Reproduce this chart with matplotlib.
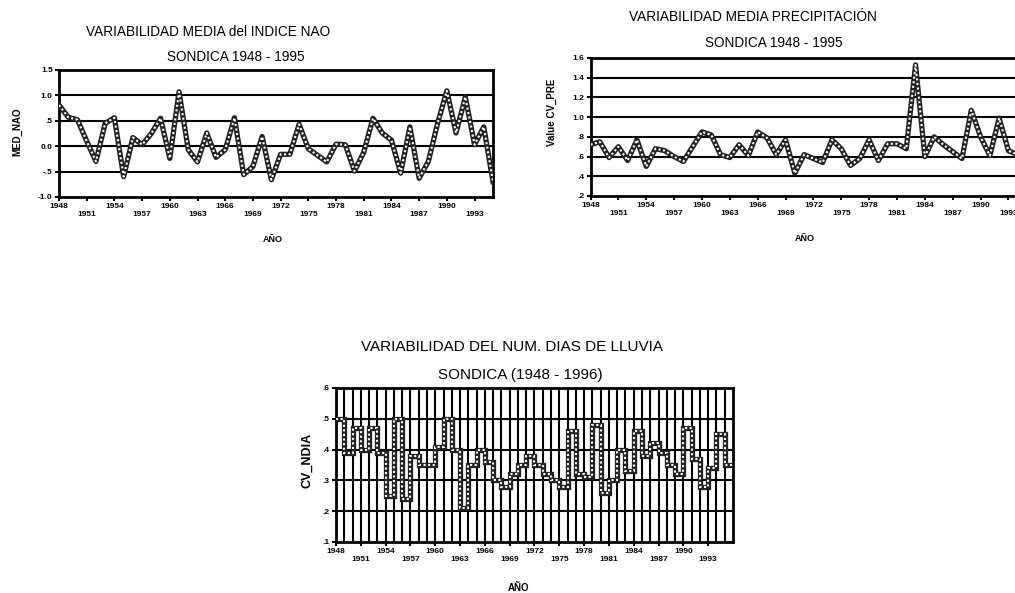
import matplotlib
matplotlib.use("Agg")
import matplotlib.pyplot as plt
import numpy as np

# ---------------- data ----------------
years_nao = list(range(1948, 1996))
med_nao = [0.81, 0.57, 0.52, 0.10, -0.30, 0.45, 0.56, -0.60, 0.17, 0.03,
           0.25, 0.55, -0.24, 1.07, -0.07, -0.31, 0.26, -0.22, -0.07, 0.56,
           -0.56, -0.40, 0.19, -0.66, -0.16, -0.16, 0.43, -0.05, -0.18, -0.31,
           0.04, 0.03, -0.49, -0.12, 0.55, 0.26, 0.12, -0.53, 0.38, -0.63,
           -0.30, 0.45, 1.09, 0.26, 0.97, 0.03, 0.38, -0.70]

years_pre = list(range(1948, 1996))
cv_pre = [0.72, 0.75, 0.59, 0.70, 0.56, 0.77, 0.50, 0.68, 0.66, 0.60,
          0.55, 0.70, 0.85, 0.82, 0.62, 0.59, 0.72, 0.61, 0.85, 0.79,
          0.62, 0.77, 0.43, 0.62, 0.58, 0.54, 0.77, 0.68, 0.51, 0.58,
          0.77, 0.56, 0.73, 0.73, 0.68, 1.53, 0.60, 0.80, 0.72, 0.65,
          0.58, 1.07, 0.80, 0.61, 0.99, 0.66, 0.62, 0.62]

years_ndia = list(range(1948, 1996))
cv_ndia = [0.50, 0.39, 0.47, 0.40, 0.47, 0.39, 0.25, 0.50, 0.24, 0.38,
           0.35, 0.35, 0.41, 0.50, 0.40, 0.21, 0.35, 0.40, 0.36, 0.30,
           0.28, 0.32, 0.35, 0.38, 0.35, 0.32, 0.30, 0.28, 0.46, 0.32,
           0.31, 0.48, 0.26, 0.30, 0.40, 0.33, 0.46, 0.38, 0.42, 0.39,
           0.35, 0.32, 0.47, 0.37, 0.28, 0.34, 0.45, 0.35]

nao_yticks = [-1.0, -0.5, 0.0, 0.5, 1.0, 1.5]
nao_ylabels = ["-1.0", "-.5", "0.0", ".5", "1.0", "1.5"]
pre_yticks = [0.2, 0.4, 0.6, 0.8, 1.0, 1.2, 1.4, 1.6]
pre_ylabels = [".2", ".4", ".6", ".8", "1.0", "1.2", "1.4", "1.6"]
ndia_yticks = [0.1, 0.2, 0.3, 0.4, 0.5, 0.6]
ndia_ylabels = [".1", ".2", ".3", ".4", ".5", ".6"]
xtick_years = list(range(1948, 1996, 3))

# ---------------- figure ----------------
W, H = 1015, 593
fig = plt.figure(figsize=(W / 100, H / 100), dpi=100)
fig.patch.set_facecolor("white")
plt.rcParams["font.family"] = ["Liberation Sans", "DejaVu Sans"]


def axes_px(l, r, t, b):
    return fig.add_axes([l / W, 1 - b / H, (r - l) / W, (b - t) / H])


def ftext(x, y, s, **kw):
    fig.text(x / W, 1 - y / H, s, ha="center", va="center", **kw)


def style(ax):
    for sp in ax.spines.values():
        sp.set_linewidth(2.0)
        sp.set_color("black")
    ax.tick_params(direction="out", length=3, width=1.5, pad=1.5,
                   labelsize=6)
    ax.set_xticks(xtick_years)
    ax.set_xticklabels([str(y) if i % 2 == 0 else "\n" + str(y)
                        for i, y in enumerate(xtick_years)],
                       fontweight="bold", fontsize=6)
    for lab in ax.get_yticklabels():
        lab.set_fontweight("bold")


def chain(ax, x, y):
    ax.plot(x, y, color="#222222", lw=3.8, solid_joinstyle="round", zorder=3)
    ax.plot(x, y, color="white", lw=1.5, ls=(0, (1, 1.2)), zorder=4)


# ---- top-left: NAO ----
ax1 = axes_px(59, 493, 70, 197)
chain(ax1, years_nao, med_nao)
ax1.set_xlim(1948, 1995)
ax1.set_ylim(-1.0, 1.5)
ax1.set_yticks(nao_yticks)
ax1.set_yticklabels(nao_ylabels)
for v in [-0.5, 0.0, 0.5, 1.0]:
    ax1.axhline(v, color="black", lw=1.5, zorder=1)
style(ax1)

ftext(208, 32, "VARIABILIDAD MEDIA del INDICE NAO", fontsize=9.8)
ftext(236, 57, "SONDICA 1948 - 1995", fontsize=9.8)
ftext(17, 132, "MED_NAO", fontsize=7, rotation=90, fontweight="bold")
ftext(273, 239, "AÑO", fontsize=6.5, fontweight="bold")

# ---- top-right: precipitation ----
ax2 = axes_px(590.5, 1027, 58, 196)
chain(ax2, years_pre, cv_pre)
ax2.set_xlim(1948, 1995)
ax2.set_ylim(0.2, 1.6)
ax2.set_yticks(pre_yticks)
ax2.set_yticklabels(pre_ylabels)
for v in [0.4, 0.6, 0.8, 1.0, 1.2, 1.4]:
    ax2.axhline(v, color="black", lw=1.5, zorder=1)
style(ax2)

ftext(753, 17, "VARIABILIDAD MEDIA PRECIPITACIÓN", fontsize=9.8)
ftext(774, 43, "SONDICA 1948 - 1995", fontsize=9.8)
ftext(552, 112, "Value CV_PRE", fontsize=7, rotation=90, fontweight="bold")
ftext(805, 238, "AÑO", fontsize=6.5, fontweight="bold")

# ---- bottom: rain days ----
ax3 = axes_px(336, 733, 388, 542)
edges = list(years_ndia) + [years_ndia[-1] + 1]
ax3.stairs(cv_ndia, edges, baseline=None, color="#222222", lw=3.8, zorder=3)
ax3.stairs(cv_ndia, edges, baseline=None, color="white", lw=1.5,
           ls=(0, (1, 1.2)), zorder=4)
ax3.set_xlim(1948, 1996)
ax3.set_ylim(0.1, 0.6)
ax3.set_yticks(ndia_yticks)
ax3.set_yticklabels(ndia_ylabels)
for v in [0.2, 0.3, 0.4, 0.5]:
    ax3.axhline(v, color="black", lw=1.5, zorder=1)
for yv in range(1949, 1996):
    ax3.axvline(yv, color="black", lw=1.5, zorder=1)
style(ax3)

ftext(512, 347, "VARIABILIDAD DEL NUM. DIAS DE LLUVIA", fontsize=11)
ftext(520, 375, "SONDICA (1948 - 1996)", fontsize=11)
ftext(307, 460, "CV_NDIA", fontsize=9, rotation=90, fontweight="bold")
ftext(518, 588, "AÑO", fontsize=7, fontweight="bold")

fig.savefig("out.png", dpi=100, facecolor="white")
